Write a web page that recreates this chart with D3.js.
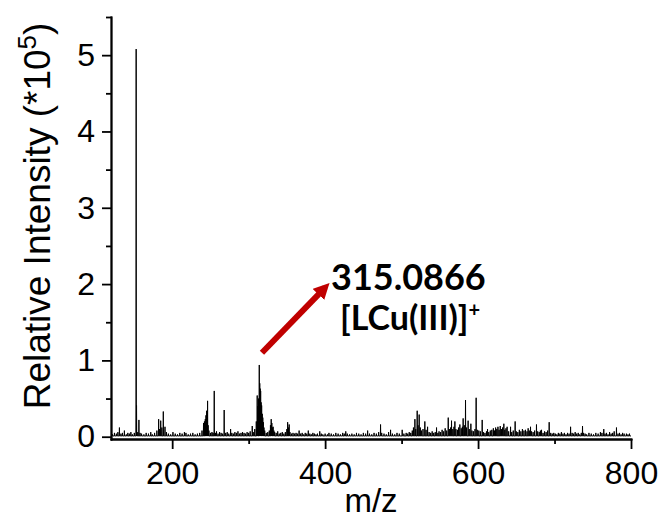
<!DOCTYPE html>
<html>
<head>
<meta charset="utf-8">
<script src="https://cdn.jsdelivr.net/npm/d3@7"></script>
<style>
  body { margin: 0; background: #fff; }
  .axis path, .axis line { stroke: #000; stroke-width: 1.8; }
  .tickLabel { font-family: "Liberation Sans", Arial, sans-serif; font-size: 32px; fill: #000; }
  .ann { font-family: Lato, "Open Sans", sans-serif; font-weight: bold; fill: #000; }
</style>
</head>
<body>
<div id="chart"></div>
<script>
// peak list (m/z, intensity in units of 1e5)
var mzValues = [122,124.5,127,129,131,133,135,137.5,140,142,144,146,148,150.5,
  152.9,153.4,155,156.5,158,160,163,166,169,172,174,177,180,182.3,183.5,185,186.5,188.4,190.6,192.5,195,198,
  201,204,207,210,213,216,218,221,224,227,230,233,236,239,
  241,242.2,243.3,244.2,245,245.6,246.3,247,248,250,252,253.5,255,256.5,258,260,262,264,266,268,270,272,274,
  276.4,278,280,282,284,286,288,290,292,294,296,298,300,302,304.7,306,308,
  310,311.2,312,313,313.9,314.5,315.1,315.7,316.3,317,317.8,318.5,319.2,320,321,323,325,327,328.5,329.5,330.3,
  331,332,333,334,336,338,340,342,344,346,348,350,351,352,353,354,356,358,360,362,364,366,368,370,372,374,376,
  378,380,382,384,386,388,390,393,395,397,400,403,405,408,411,414,417,420,423,425,427,429,432,435,438,441,444,
  447,450,453,455.6,458,461,464,467,470,472.5,474,477,480,483,485.6,488,491,494,497,500.8,503,506,508,510,512,
  514,515.5,517.4,518.5,520.4,521.5,523,524.5,526,528,530.4,532,534,536,538,540,542,544,545.7,547.5,549,551,553,
  555,557,559,561,562.5,564,565.3,567,568.5,569.7,571,573,574.5,576.2,578,579.5,580.5,582,583.6,585,587,588.5,
  590.6,592,594,596,597.5,599,601,603,605.4,607,609,611,612.4,614,616,618,620,621.5,623,624.5,626,627.5,629,
  630.5,632,633.7,635,636.5,638,640,642.5,644,646,648.5,650,652,654,656,658,660,662,664,665.5,667,668.6,670,672,
  674,676.4,678,680,681.5,683,685,687,689,691,693,695,697,699,701,703,705,707,709,711,713,715,717,719,721,723,
  725,727,729,731,733,735,736.6,738,740,742,745,748,751,754,757,760,762,764.4,766,768,770,772,774,776,778,781,
  783,785,787,789,791,794,796,798];
var intensities = [0.03,0.05,0.04,0.06,0.12,0.04,0.05,0.08,0.03,0.05,0.04,0.06,0.03,0.05,
  5.08,0.41,0.06,0.22,0.05,0.04,0.03,0.05,0.04,0.06,0.03,0.05,0.08,0.23,0.1,0.21,0.12,0.33,0.13,0.06,0.04,0.03,
  0.06,0.04,0.03,0.05,0.04,0.06,0.05,0.03,0.04,0.05,0.03,0.04,0.05,0.08,
  0.18,0.2,0.23,0.28,0.34,0.2,0.47,0.15,0.08,0.05,0.06,0.05,0.6,0.05,0.07,0.04,0.06,0.05,0.04,0.35,0.05,0.06,0.04,
  0.1,0.05,0.04,0.06,0.05,0.07,0.04,0.05,0.06,0.05,0.04,0.06,0.05,0.07,0.14,0.06,0.1,
  0.2,0.54,0.4,0.5,0.94,0.7,0.63,0.6,0.45,0.41,0.3,0.25,0.19,0.12,0.08,0.05,0.06,0.08,0.15,0.23,0.18,
  0.12,0.13,0.08,0.06,0.05,0.07,0.04,0.05,0.06,0.04,0.06,0.1,0.19,0.12,0.16,0.06,0.04,0.05,0.04,0.05,0.04,0.08,0.04,0.05,0.03,0.05,0.04,
  0.08,0.04,0.03,0.05,0.04,0.03,0.04,0.07,0.04,0.03,0.04,0.03,0.05,0.04,0.03,0.05,0.04,0.03,0.05,0.04,0.07,0.04,0.03,0.04,0.03,0.05,0.04,
  0.03,0.05,0.04,0.08,0.04,0.03,0.05,0.04,0.06,0.16,0.05,0.04,0.03,0.06,0.09,0.04,0.03,0.05,0.04,0.09,0.04,0.05,0.04,0.06,0.05,
  0.08,0.12,0.23,0.1,0.34,0.15,0.29,0.12,0.08,0.1,0.2,0.09,0.13,0.06,0.05,0.07,0.05,0.06,0.12,0.05,0.07,0.06,0.09,
  0.07,0.11,0.08,0.25,0.1,0.12,0.21,0.1,0.13,0.2,0.1,0.09,0.12,0.16,0.11,0.13,0.24,0.15,0.48,0.12,0.21,0.1,
  0.17,0.08,0.07,0.1,0.51,0.09,0.08,0.07,0.22,0.06,0.05,0.07,0.1,0.06,0.08,0.09,0.11,0.08,0.12,0.1,0.13,0.09,0.14,
  0.1,0.12,0.17,0.09,0.11,0.13,0.07,0.13,0.06,0.08,0.2,0.07,0.06,0.09,0.07,0.1,0.08,0.09,0.07,0.11,0.08,0.13,0.07,0.06,
  0.08,0.16,0.07,0.06,0.08,0.09,0.05,0.07,0.06,0.08,0.19,0.05,0.04,0.05,0.04,0.03,0.05,0.04,0.06,0.04,0.05,0.03,0.05,0.04,0.13,0.05,
  0.04,0.06,0.04,0.05,0.03,0.05,0.14,0.05,0.04,0.03,0.05,0.04,0.03,0.05,0.04,0.06,0.05,0.1,0.04,0.05,0.03,0.06,0.04,0.05,0.07,0.12,
  0.04,0.05,0.03,0.05,0.04,0.04,0.03,0.04];

var baseLevel = 0.01;
var xMajorTicks = [200, 400, 600, 800];
var xMinorTicks = [300, 500, 700];
var yMajorTicks = [0, 1, 2, 3, 4, 5];
var yMinorTicks = [0.5, 1.5, 2.5, 3.5, 4.5, 5.5];

// annotation anchored in data units
var arrowFrom = {mz: 317.4, val: 1.10};
var arrowTo = {mz: 406.5, val: 2.02};
var label1 = "315.0866";
var label2 = "[LCu(III)]";

var width = 662, height = 521;
var margin = {top: 17, right: 31, bottom: 82, left: 111};

var x = d3.scaleLinear().domain([120, 800]).range([margin.left, width - margin.right]);
var y = d3.scaleLinear().domain([-0.03, 5.5]).range([height - margin.bottom, margin.top]);

var svg = d3.select("#chart").append("svg")
    .attr("width", width)
    .attr("height", height);

svg.append("rect").attr("width", width).attr("height", height).attr("fill", "#fff");

// build stick spectrum: baseline -> peak -> baseline
var spec = [];
mzValues.forEach(function(m, i) {
  spec.push([m - 0.25, baseLevel]);
  spec.push([m, intensities[i]]);
  spec.push([m + 0.25, baseLevel]);
});
spec.unshift([120, baseLevel]);
spec.push([800, baseLevel]);

var line = d3.line()
    .x(function(d) { return x(d[0]); })
    .y(function(d) { return y(d[1]); });

svg.append("path")
    .datum(spec)
    .attr("fill", "none")
    .attr("stroke", "#000")
    .attr("stroke-width", 1)
    .attr("d", line);

// x axis
var x0 = height - margin.bottom;
svg.append("g")
    .attr("class", "axis")
    .attr("transform", "translate(0," + x0 + ")")
    .call(d3.axisBottom(x).tickValues(xMinorTicks).tickSize(5).tickSizeOuter(0).tickFormat(""));
var xa = svg.append("g")
    .attr("class", "axis")
    .attr("transform", "translate(0," + x0 + ")")
    .call(d3.axisBottom(x).tickValues(xMajorTicks).tickSize(10).tickSizeOuter(0).tickPadding(12));
xa.selectAll("text").attr("class", "tickLabel");
xa.attr("font-size", null).attr("font-family", null);

// y axis
var y0 = margin.left;
svg.append("g")
    .attr("class", "axis")
    .attr("transform", "translate(" + y0 + ",0)")
    .call(d3.axisLeft(y).tickValues(yMinorTicks).tickSize(5).tickSizeOuter(0).tickFormat(""));
var ya = svg.append("g")
    .attr("class", "axis")
    .attr("transform", "translate(" + y0 + ",0)")
    .call(d3.axisLeft(y).tickValues(yMajorTicks).tickSize(9).tickSizeOuter(0)
      .tickPadding(7).tickFormat(d3.format("d")));
ya.selectAll("text").attr("class", "tickLabel");
ya.attr("font-size", null).attr("font-family", null);
svg.selectAll(".axis .domain").attr("stroke-linecap", "square");

// axis titles
svg.append("text")
    .attr("class", "tickLabel")
    .attr("x", (margin.left + width - margin.right) / 2)
    .attr("y", 512)
    .attr("text-anchor", "middle")
    .style("font-size", "33px")
    .text("m/z");

var yt = svg.append("text")
    .attr("class", "tickLabel")
    .attr("transform", "translate(50,216) rotate(-90)")
    .attr("text-anchor", "middle")
    .style("font-size", "37px");
yt.append("tspan").text("Relative Intensity (*10");
yt.append("tspan").attr("dy", -14).style("font-size", "26px").text("5");
yt.append("tspan").attr("dy", 14).text(")");

// annotation arrow
svg.append("defs").append("marker")
    .attr("id", "head")
    .attr("markerUnits", "userSpaceOnUse")
    .attr("viewBox", "0 0 10 10")
    .attr("refX", 6).attr("refY", 5)
    .attr("markerWidth", 16).attr("markerHeight", 16)
    .attr("orient", "auto")
  .append("path")
    .attr("d", "M0,0L10,5L0,10z")
    .attr("fill", "#c00000");

svg.append("line")
    .attr("x1", x(arrowFrom.mz)).attr("y1", y(arrowFrom.val))
    .attr("x2", x(arrowTo.mz) - 5).attr("y2", y(arrowTo.val) + 5)
    .attr("stroke", "#c00000")
    .attr("stroke-width", 6)
    .attr("marker-end", "url(#head)");

svg.append("text")
    .attr("class", "ann")
    .attr("x", 331).attr("y", 290)
    .style("font-size", "36px")
    .text(label1);

var t2 = svg.append("text")
    .attr("class", "ann")
    .attr("x", 340).attr("y", 330)
    .style("font-size", "34px");
t2.append("tspan").text(label2);
t2.append("tspan").attr("dy", -13).style("font-size", "20px").text("+");
</script>
</body>
</html>
